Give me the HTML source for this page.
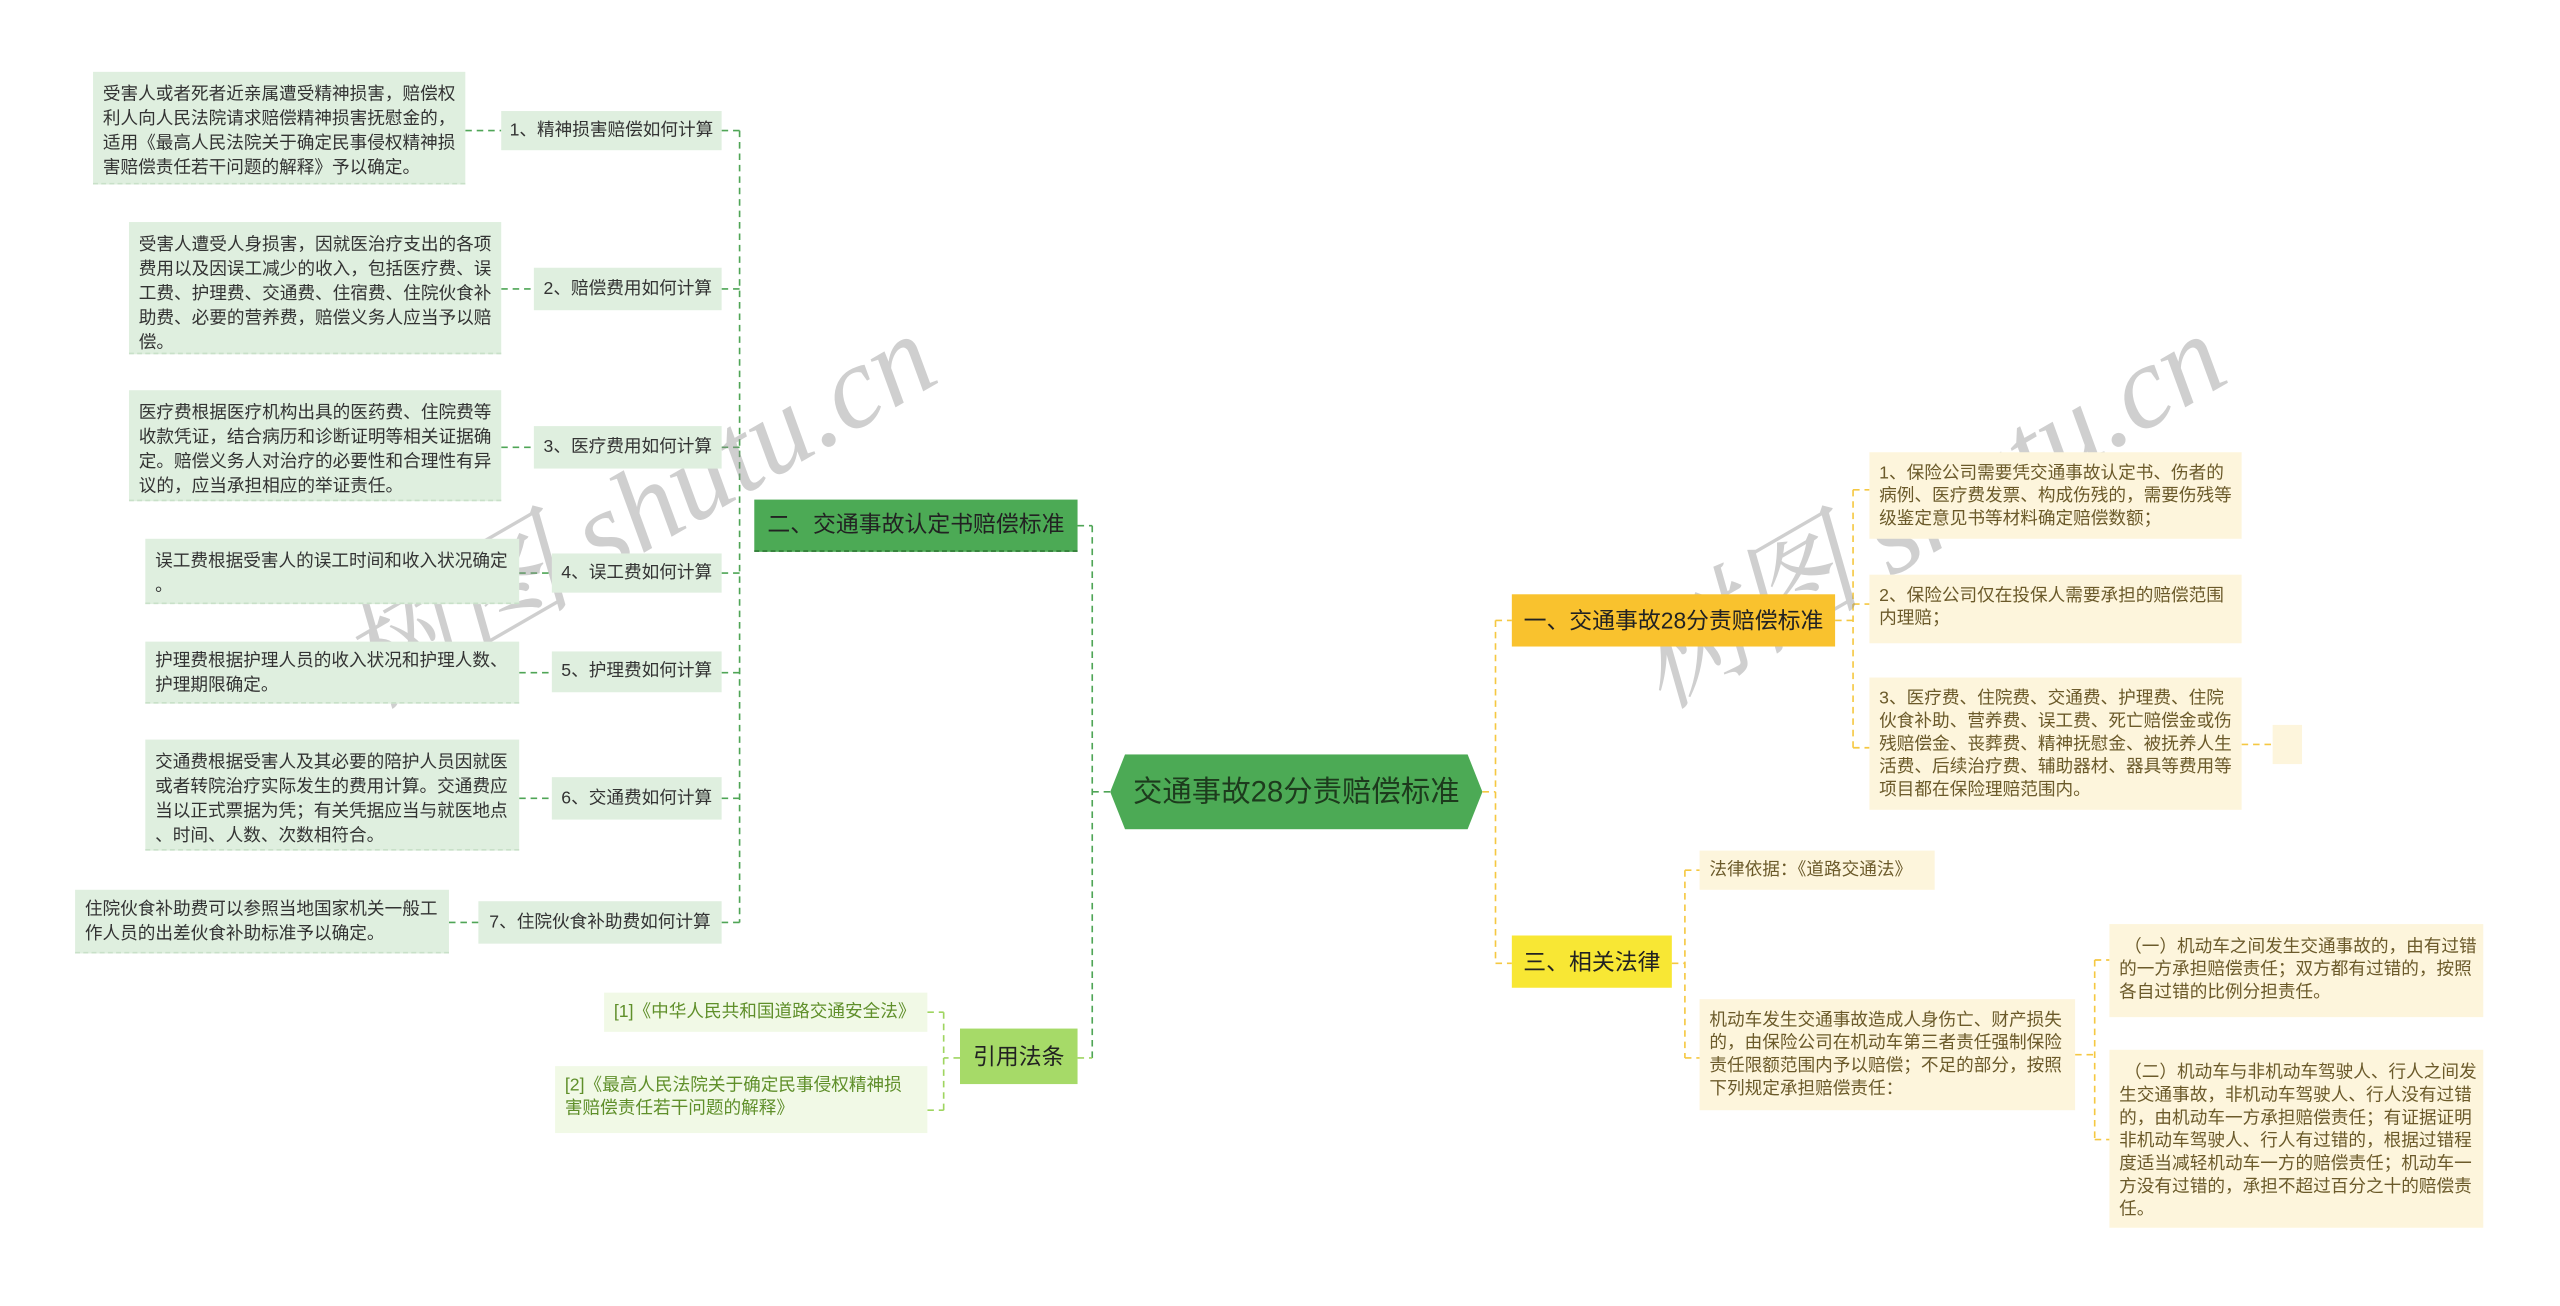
<!DOCTYPE html>
<html><head><meta charset="utf-8"><style>
html,body{margin:0;padding:0;background:#fff;overflow:hidden}
#w{position:absolute;left:0;top:0;width:1568px;height:800px;transform:scale(1.63265);transform-origin:0 0;font-family:"Liberation Sans","Noto Sans CJK SC",sans-serif}
.b{position:absolute;box-sizing:border-box;white-space:nowrap;font-size:10.8px;line-height:15px}
.g{background:#dfefdf;color:#333;padding:7px 6px;border-bottom:1px dashed #c8e0c8}
.s{background:#dfefdf;color:#333;display:flex;align-items:center;justify-content:center;font-size:10.8px}
.y{background:#fdf5dc;color:#6b5a2a;padding:6px 6px;line-height:14px}
.c{background:#f1f9e6;color:#5f8f2a;padding:5px 6px;line-height:14px}
.m{display:flex;align-items:center;justify-content:center;font-size:14px;color:#222}
.wm{position:absolute;font-size:72px;color:rgba(140,140,140,.42);transform:rotate(-30deg);white-space:nowrap;font-family:"Liberation Serif","Noto Serif CJK SC",serif;font-style:italic}
</style></head><body><div id="w">
<svg width="1568" height="800" style="position:absolute;left:0;top:0" fill="none" stroke-width="1" stroke-dasharray="4 3">
<g stroke="#4fa556">
<path d="M680 485 H669 M669 322 V648 M660 322 H669"/>
<path d="M442 80 H453 M453 80 V565 M442 177 H453 M442 274 H453 M442 351 H453 M442 412 H453 M442 489 H453 M442 565 H453"/>
<path d="M285 80 H307 M307 177 H327 M307 274 H327 M318 351 H338 M318 412 H338 M318 489 H338 M275 565 H293"/>
</g>
<g stroke="#9fd560">
<path d="M660 648 H669 M588 648 H578 M578 620 V680 M568 620 H578 M568 680 H578"/>
</g>
<g stroke="#f5c842">
<path d="M908 485 H916 M916 380 V590 M916 380 H926 M916 590 H926"/>
<path d="M1124 380 H1135 M1135 300 V458 M1135 300 H1145 M1135 370 H1145 M1135 458 H1145 M1373 456 H1392"/>
<path d="M1024 590 H1032 M1032 533 V648 M1032 533 H1041 M1032 648 H1041 M1271 646 H1283 M1283 588 V698 M1283 588 H1292 M1283 698 H1292"/>
</g>
</svg>
<div class="wm" style="left:185px;top:255px">树图 shutu.cn</div>
<div class="wm" style="left:975px;top:255px">树图 shutu.cn</div>

<div class="b m" style="left:680px;top:462px;width:228px;height:46px;background:#4caa55;font-size:18px;color:#1d3b1d;clip-path:polygon(4% 0,96% 0,100% 50%,96% 100%,4% 100%,0 50%)">交通事故28分责赔偿标准</div>

<div class="b m" style="left:462px;top:306px;width:198px;height:32px;background:#4caa55;border-bottom:1px dashed #2f7a35">二、交通事故认定书赔偿标准</div>
<div class="b m" style="left:588px;top:630px;width:72px;height:34px;background:#a6da68">引用法条</div>

<div class="b s" style="left:307px;top:68px;width:135px;height:24px">1、精神损害赔偿如何计算</div>
<div class="b s" style="left:327px;top:164px;width:115px;height:26px">2、赔偿费用如何计算</div>
<div class="b s" style="left:327px;top:261px;width:115px;height:26px">3、医疗费用如何计算</div>
<div class="b s" style="left:338px;top:339px;width:104px;height:24px">4、误工费如何计算</div>
<div class="b s" style="left:338px;top:399px;width:104px;height:25px">5、护理费如何计算</div>
<div class="b s" style="left:338px;top:476px;width:104px;height:26px">6、交通费如何计算</div>
<div class="b s" style="left:293px;top:552px;width:149px;height:26px">7、住院伙食补助费如何计算</div>

<div class="b g" style="left:57px;top:44px;width:228px;height:69px">受害人或者死者近亲属遭受精神损害，赔偿权<br>利人向人民法院请求赔偿精神损害抚慰金的，<br>适用《最高人民法院关于确定民事侵权精神损<br>害赔偿责任若干问题的解释》予以确定。</div>
<div class="b g" style="left:79px;top:136px;width:228px;height:81px">受害人遭受人身损害，因就医治疗支出的各项<br>费用以及因误工减少的收入，包括医疗费、误<br>工费、护理费、交通费、住宿费、住院伙食补<br>助费、必要的营养费，赔偿义务人应当予以赔<br>偿。</div>
<div class="b g" style="left:79px;top:239px;width:228px;height:68px">医疗费根据医疗机构出具的医药费、住院费等<br>收款凭证，结合病历和诊断证明等相关证据确<br>定。赔偿义务人对治疗的必要性和合理性有异<br>议的，应当承担相应的举证责任。</div>
<div class="b g" style="left:89px;top:330px;width:229px;height:40px">误工费根据受害人的误工时间和收入状况确定<br>。</div>
<div class="b g" style="left:89px;top:393px;width:229px;height:38px;padding-top:5px">护理费根据护理人员的收入状况和护理人数、<br>护理期限确定。</div>
<div class="b g" style="left:89px;top:453px;width:229px;height:68px">交通费根据受害人及其必要的陪护人员因就医<br>或者转院治疗实际发生的费用计算。交通费应<br>当以正式票据为凭；有关凭据应当与就医地点<br>、时间、人数、次数相符合。</div>
<div class="b g" style="left:46px;top:545px;width:229px;height:39px;padding-top:5px">住院伙食补助费可以参照当地国家机关一般工<br>作人员的出差伙食补助标准予以确定。</div>

<div class="b c" style="left:370px;top:608px;width:198px;height:24px">[1]《中华人民共和国道路交通安全法》</div>
<div class="b c" style="left:340px;top:653px;width:228px;height:41px">[2]《最高人民法院关于确定民事侵权精神损<br>害赔偿责任若干问题的解释》</div>

<div class="b m" style="left:926px;top:364px;width:198px;height:32px;background:#f9c22e">一、交通事故28分责赔偿标准</div>
<div class="b m" style="left:926px;top:573px;width:98px;height:32px;background:#f8e734">三、相关法律</div>

<div class="b y" style="left:1145px;top:277px;width:228px;height:53px">1、保险公司需要凭交通事故认定书、伤者的<br>病例、医疗费发票、构成伤残的，需要伤残等<br>级鉴定意见书等材料确定赔偿数额；</div>
<div class="b y" style="left:1145px;top:352px;width:228px;height:42px">2、保险公司仅在投保人需要承担的赔偿范围<br>内理赔；</div>
<div class="b y" style="left:1145px;top:415px;width:228px;height:81px">3、医疗费、住院费、交通费、护理费、住院<br>伙食补助、营养费、误工费、死亡赔偿金或伤<br>残赔偿金、丧葬费、精神抚慰金、被抚养人生<br>活费、后续治疗费、辅助器材、器具等费用等<br>项目都在保险理赔范围内。</div>
<div class="b" style="left:1392px;top:444px;width:18px;height:24px;background:#fdf5dc"></div>

<div class="b y" style="left:1041px;top:521px;width:144px;height:24px;padding-top:5px">法律依据：《道路交通法》</div>
<div class="b y" style="left:1041px;top:612px;width:230px;height:68px">机动车发生交通事故造成人身伤亡、财产损失<br>的，由保险公司在机动车第三者责任强制保险<br>责任限额范围内予以赔偿；不足的部分，按照<br>下列规定承担赔偿责任：</div>
<div class="b y" style="left:1292px;top:566px;width:229px;height:57px;padding-top:7px">&nbsp;（一）机动车之间发生交通事故的，由有过错<br>的一方承担赔偿责任；双方都有过错的，按照<br>各自过错的比例分担责任。</div>
<div class="b y" style="left:1292px;top:643px;width:229px;height:109px;padding-top:7px">&nbsp;（二）机动车与非机动车驾驶人、行人之间发<br>生交通事故，非机动车驾驶人、行人没有过错<br>的，由机动车一方承担赔偿责任；有证据证明<br>非机动车驾驶人、行人有过错的，根据过错程<br>度适当减轻机动车一方的赔偿责任；机动车一<br>方没有过错的，承担不超过百分之十的赔偿责<br>任。</div>
</div></body></html>
